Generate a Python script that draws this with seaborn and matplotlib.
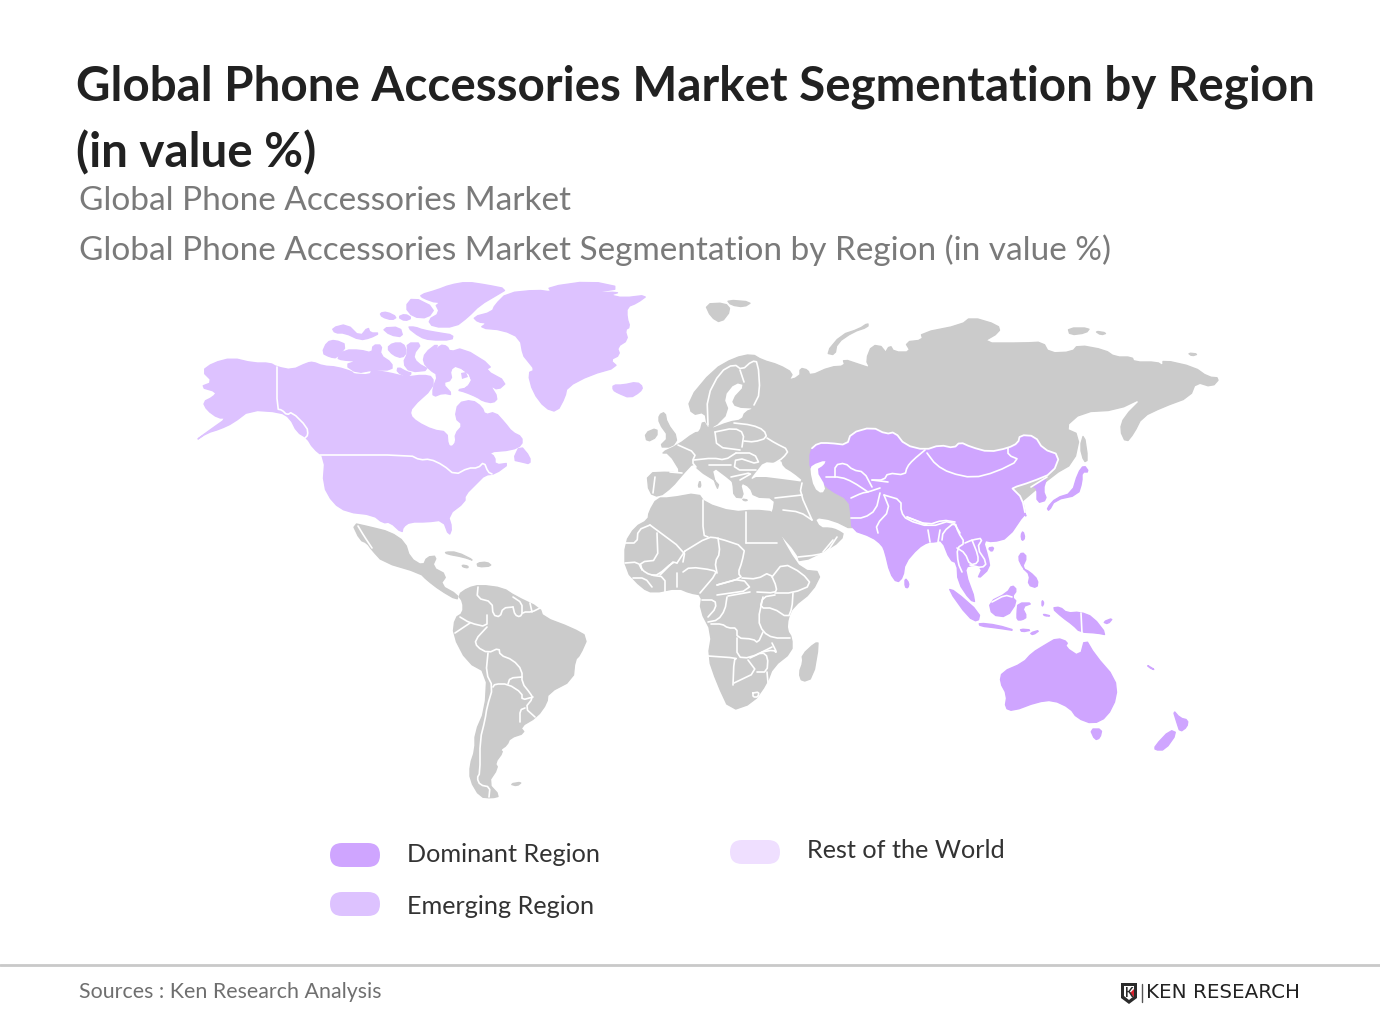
import matplotlib
matplotlib.use("Agg")
import matplotlib.pyplot as plt
from matplotlib.patches import FancyBboxPatch
import pandas as pd
import seaborn as sns

# colours
dominant_color = "#CFA5FF"
emerging_color = "#DDC2FF"
rest_color = "#EFDFFF"
land_color = "#CBCBCB"

# texts
title_lines = ["Global Phone Accessories Market Segmentation by Region", "(in value %)"]
subtitle_lines = ["Global Phone Accessories Market",
                  "Global Phone Accessories Market Segmentation by Region (in value %)"]
legend_labels = ["Dominant Region", "Emerging Region", "Rest of the World"]
source_text = "Sources : Ken Research Analysis"
logo_text = "KEN RESEARCH"

# map outlines
north_america = [(202,371),(213,363),(232,358),(253,363),(270,363),(277,367),(292,370),(307,363),(313,362),(323,366),(337,367),(353,372),(352,374),(370,375),(372,370),(390,373),(398,375),(407,377),(423,375),(433,377),(433,388),(412,407),(410,415),(417,422),(433,430),(447,432),(448,445),(452,447),(456,442),(455,434),(463,425),(455,418),(458,403),(472,400),(482,407),(485,415),(495,412),(505,423),(512,432),(522,437),(522,445),(512,450),(488,452),(495,457),(495,465),(510,463),(495,474),(485,475),(477,483),(465,495),(465,502),(448,515),(452,528),(449,536),(443,520),(427,522),(410,522),(403,527),(402,533),(390,522),(383,523),(373,515),(347,512),(333,503),(323,485),(325,458),(313,448),(307,438),(297,432),(290,418),(280,412),(250,410),(233,423),(220,429),(207,433),(195,441),(210,430),(227,418),(218,418),(207,410),(203,402),(213,397),(217,392),(200,387),(213,382)]
baffin = [(425,353),(438,343),(435,353),(440,345),(447,346),(450,352),(463,348),(492,366),(485,370),(507,382),(498,390),(490,385),(498,398),(493,403),(483,401),(477,397),(465,392),(457,390),(467,388),(473,378),(457,365),(450,370),(452,380),(442,383),(453,395),(443,393),(433,397),(433,388),(438,375),(430,370),(423,362)]
banks = [(322,353),(327,342),(335,340),(347,345),(337,358),(330,357)]
victoria = [(337,358),(345,350),(360,350),(372,353),(373,345),(382,345),(380,355),(392,363),(392,370),(373,370),(357,373),(345,365),(357,361),(342,360)]
prince_wales = [(387,348),(393,343),(403,343),(407,352),(402,358),(393,355)]
somerset = [(407,343),(422,343),(413,355),(417,363),(430,370),(410,372),(403,363),(408,353)]
king_william = [(398,367),(407,372),(412,373),(407,377),(397,372)]
melville = [(332,328),(347,324),(360,337),(368,327),(370,333),(380,333),(370,338),(360,340),(345,333),(335,333)]
bathurst = [(382,328),(400,327),(403,337),(390,335)]
devon = [(407,327),(415,327),(423,330),(440,333),(453,335),(452,340),(430,340),(420,337)]
cornwallis = [(380,313),(387,312),(397,317),(392,320),(382,317)]
amund = [(398,317),(405,314),(412,318),(405,321)]
axel = [(405,307),(413,297),(435,308),(428,318),(413,317)]
ellesmere = [(420,295),(437,290),(450,285),(467,282),(487,285),(507,289),(497,295),(480,305),(468,317),(455,327),(433,327),(428,320),(440,313),(435,303),(455,301),(437,303),(423,298)]
greenland = [(473,317),(492,312),(495,305),(507,293),(537,290),(552,292),(548,287),(590,281),(623,288),(590,293),(620,292),(610,295),(623,298),(648,295),(637,303),(627,307),(627,318),(630,327),(625,330),(628,340),(617,347),(620,355),(610,360),(618,367),(590,375),(567,387),(565,397),(557,412),(545,408),(533,392),(528,373),(535,370),(527,360),(523,355),(520,338),(503,330),(480,328),(487,323),(478,322)]
iceland = [(613,385),(623,385),(637,382),(643,387),(640,392),(630,398),(618,393),(613,390)]
newfoundland = [(520,445),(530,457),(530,464),(522,462),(513,460)]
foxe_island = [(461,373),(466,372),(468,377),(462,379)]

eurasia = [(688,400),(713,370),(734,358),(752,354),(762,360),(779,365),(793,373),(789,380),(781,390),(773,380),(777,388),(781,382),(800,377),(800,368),(808,370),(810,376),(830,367),(845,366),(843,359),(861,365),(870,368),(866,360),(872,345),(884,347),(886,362),(890,367),(882,378),(890,368),(884,355),(890,345),(894,352),(911,352),(905,342),(923,340),(921,333),(961,325),(971,317),(998,325),(1000,332),(981,343),(1024,343),(1043,342),(1049,353),(1072,352),(1078,345),(1105,350),(1115,357),(1132,357),(1134,362),(1157,362),(1163,366),(1163,360),(1194,367),(1208,377),(1220,378),(1212,387),(1196,382),(1190,397),(1163,407),(1142,417),(1134,433),(1126,443),(1120,430),(1124,417),(1144,397),(1117,410),(1082,412),(1064,428),(1080,435),(1074,463),(1053,475),(1000,520),(900,520),(853,530),(833,520),(814,517),(820,528),(830,528),(837,530),(845,535),(833,547),(800,563),(797,553),(777,530),(768,520),(773,512),(775,498),(754,497),(750,487),(740,482),(744,498),(734,497),(733,483),(731,480),(711,465),(717,490),(719,483),(698,470),(694,462),(682,475),(672,487),(659,497),(649,493),(647,473),(670,472),(682,474),(669,453),(661,453),(678,445),(694,433),(700,432),(703,420),(709,430),(729,422),(742,420),(745,412),(756,408),(736,407),(732,400),(746,385),(735,382),(723,397),(729,412),(713,428),(707,425),(705,412),(692,415)]
britain = [(659,415),(665,412),(667,423),(678,438),(672,447),(659,447),(669,437),(659,423)]
ireland = [(645,433),(657,428),(657,437),(647,442)]
svalbard = [(705,304),(725,303),(731,310),(721,323),(711,317)]
svalbard_east = [(727,300),(752,302),(744,307),(731,305)]
novaya_zemlya = [(868,323),(859,329),(841,335),(826,353),(835,355),(837,343),(853,332),(868,327)]
new_siberia = [(1068,328),(1090,328),(1086,333),(1070,335)]
new_siberia_east = [(1095,331),(1107,333),(1101,335)]
wrangel = [(1188,353),(1198,354),(1192,356)]
sakhalin = [(1084,433),(1088,460),(1084,462),(1080,447)]
corsica = [(700,480),(701,487),(698,487)]
crete = [(742,499),(748,500),(745,501)]

africa = [(649,512),(657,498),(670,498),(698,493),(705,503),(733,512),(754,510),(775,512),(773,520),(788,550),(802,570),(822,572),(812,592),(793,607),(788,618),(787,630),(792,638),(792,652),(773,667),(767,683),(753,703),(730,711),(717,683),(708,657),(712,633),(700,610),(702,595),(690,593),(678,588),(653,593),(642,588),(625,570),(625,543),(635,527),(648,520)]
madagascar = [(802,655),(815,643),(819,643),(813,678),(802,682),(799,673),(803,662)]
central_america = [(352,523),(370,527),(390,532),(405,542),(410,558),(423,566),(427,557),(437,556),(432,567),(447,575),(440,585),(458,595),(457,600),(440,590),(427,580),(420,573),(383,562),(372,550),(367,543),(360,540)]
cuba = [(445,552),(457,552),(475,561),(463,557),(447,554)]
hispaniola = [(477,563),(487,562),(492,566),(478,567)]
jamaica = [(462,565),(468,566),(468,568),(463,567)]
south_america = [(458,595),(468,588),(480,585),(503,588),(515,596),(540,608),(543,617),(572,628),(588,637),(580,655),(575,660),(573,680),(548,693),(547,703),(537,717),(520,727),(525,733),(510,738),(507,745),(500,750),(503,752),(495,763),(498,768),(488,783),(500,796),(492,798),(480,797),(470,780),(470,765),(475,750),(475,733),(485,710),(487,673),(467,662),(453,635),(455,618),(463,613),(463,602)]
falkland = [(510,784),(522,782),(517,786)]

asia_main = [(810,450),(818,443),(830,443),(847,445),(851,433),(872,427),(886,434),(895,432),(905,445),(925,450),(940,445),(954,448),(960,442),(971,447),(989,452),(1008,448),(1018,443),(1020,435),(1035,436),(1043,449),(1060,455),(1053,473),(1031,482),(1012,488),(1014,490),(1022,498),(1026,517),(1025,513),(1008,538),(993,542),(983,540),(988,557),(990,568),(977,580),(983,567),(968,565),(965,572),(976,602),(970,600),(958,582),(957,563),(950,560),(942,540),(935,542),(928,542),(918,548),(905,563),(903,577),(897,583),(890,573),(885,552),(882,545),(872,537),(852,530),(851,515),(849,500),(830,490),(822,482),(810,470)]
korea = [(1033,487),(1047,477),(1043,490),(1047,500),(1037,503),(1037,488)]
japan = [(1047,508),(1049,511),(1055,500),(1078,495),(1082,482),(1082,472),(1089,472),(1084,465),(1078,473),(1072,493),(1056,498)]
taiwan = [(1023,531),(1025,538),(1022,541),(1021,535)]
philippines = [(1022,552),(1027,557),(1022,568),(1030,572),(1038,580),(1037,588),(1028,585),(1030,575),(1023,568),(1018,558)]
sumatra = [(948,589),(955,591),(980,613),(978,622),(968,617)]
java = [(979,623),(997,625),(1017,631),(997,628),(980,626)]
sunda = [(1020,629),(1032,630),(1022,632)]
timor = [(1030,633),(1040,630),(1033,635)]
hainan = [(988,548),(994,547),(992,552)]
sri_lanka = [(905,578),(909,583),(908,588),(905,587)]
borneo = [(989,602),(1007,593),(1012,585),(1017,590),(1012,597),(1017,602),(1007,617),(992,615)]
sulawesi = [(1018,603),(1033,603),(1022,607),(1027,617),(1022,620),(1017,620),(1017,612)]
new_guinea = [(1052,608),(1060,607),(1067,613),(1080,612),(1093,617),(1107,635),(1097,633),(1080,632),(1073,625),(1062,617)]
halmahera = [(1042,600),(1044,603),(1042,607)]
seram = [(1043,614),(1051,616),(1045,616)]
new_britain = [(1103,622),(1113,618),(1108,624)]
australia = [(1002,672),(1023,663),(1032,653),(1045,645),(1057,638),(1068,642),(1065,647),(1080,657),(1085,638),(1095,655),(1115,678),(1117,697),(1107,717),(1093,724),(1077,718),(1070,708),(1053,700),(1037,702),(1013,711),(1005,708),(1007,695),(1000,682)]
tasmania = [(1090,729),(1102,729),(1100,738),(1095,740)]
new_caledonia = [(1147,665),(1155,670),(1150,668)]
nz_north = [(1173,710),(1180,718),(1188,720),(1187,727),(1180,732),(1177,723)]
nz_south = [(1170,730),(1177,733),(1165,750),(1155,750),(1155,746)]

black_sea = [(750,480),(758,476),(790,480),(804,482),(793,473),(783,467),(781,460),(775,463),(764,462),(756,472)]
caspian = [(812,465),(826,460),(824,465),(816,470),(826,487),(822,494),(814,488),(810,470)]
foxe_basin = [(458,367),(472,377),(466,388),(456,388),(452,378)]

land_shapes = [eurasia, britain, ireland, svalbard, svalbard_east, novaya_zemlya, new_siberia, new_siberia_east,
               wrangel, sakhalin, corsica, crete, africa, madagascar, central_america, cuba, hispaniola, jamaica,
               south_america, falkland]
emerging_shapes = [north_america, baffin, banks, victoria, prince_wales, somerset, king_william, melville, bathurst,
                   devon, cornwallis, amund, axel, ellesmere, greenland, iceland, newfoundland]
dominant_shapes = [asia_main, korea, japan, taiwan, philippines, sumatra, java, sunda, timor, hainan, sri_lanka,
                   borneo, sulawesi, new_guinea, halmahera, seram, new_britain, australia, tasmania, new_caledonia,
                   nz_north, nz_south]
sea_shapes = [black_sea, caspian, foxe_basin]

# country borders
borders = [
    [(277,367),(277,409),(282,410),(287,415),(292,412),(307,427),(308,435),(305,438)],
    [(320,455),(410,455),(420,460),(430,459),(443,465),(455,475),(468,468),(478,468),(484,462),(488,472),(492,474)],
    [(358,526),(364,536),(372,548)],
    [(478,587),(477,598),(492,602),(493,615),(500,617),(503,608),(513,607)],
    [(487,615),(487,627),(470,623),(460,617)],
    [(513,607),(515,615),(520,617),(523,612),(532,612),(540,608)],
    [(513,597),(522,603),(522,613)],
    [(530,603),(532,612)],
    [(487,627),(475,640),(477,647),(488,653),(499,648),(500,655),(513,660),(522,670),(522,683),(530,693),(533,698),(525,708),(535,717)],
    [(470,623),(455,633)],
    [(488,653),(486,673),(493,687),(487,707),(485,720),(480,740),(480,773),(477,778),(480,785),(490,787),(489,797)],
    [(493,687),(495,684),(508,684),(522,693),(522,700),(533,697)],
    [(508,684),(510,678),(522,677)],
    [(520,722),(520,710),(525,708)],
    [(650,525),(685,551),(683,562)],
    [(685,551),(708,537),(718,538),(745,547),(742,562),(738,573),(742,578),(717,585)],
    [(746,543),(777,543)],
    [(746,512),(746,543)],
    [(703,500),(703,535),(708,537)],
    [(657,533),(658,560),(640,562),(642,570)],
    [(625,543),(637,543),(638,530),(650,525)],
    [(677,563),(685,551)],
    [(677,563),(673,562),(658,575),(652,575)],
    [(683,572),(690,567),(713,570),(717,573),(700,593)],
    [(717,573),(715,562),(720,553),(718,538)],
    [(717,585),(742,578),(752,590),(717,595)],
    [(742,578),(757,579),(770,572),(777,588),(775,593),(757,592)],
    [(772,577),(783,563),(802,573),(812,585),(793,593),(775,593)],
    [(793,593),(792,608),(788,618),(773,608),(760,608),(763,597),(775,595)],
    [(728,596),(750,592)],
    [(763,597),(758,620),(763,632),(773,638),(790,638)],
    [(727,597),(725,610),(718,620),(708,622)],
    [(711,624),(722,624),(728,628),(737,628),(737,638),(753,639),(758,643),(763,632)],
    [(737,638),(737,657),(750,658),(772,647)],
    [(708,656),(737,658),(734,660),(733,685)],
    [(734,683),(757,672),(748,660)],
    [(750,658),(762,652),(768,657),(767,672),(757,672)],
    [(767,672),(768,683)],
    [(762,652),(773,650),(777,653),(772,643)],
    [(753,693),(759,692),(758,697),(753,697),(753,693)],
    [(702,600),(715,600),(716,608),(708,617)],
    [(625,563),(638,562),(642,570),(650,575),(665,577),(665,592)],
    [(677,573),(677,587)],
    [(633,578),(645,578),(652,587)],
    [(660,575),(673,562)],
    [(708,425),(707,397),(720,372),(734,364),(742,370),(752,361),(758,362),(760,393),(754,405)],
    [(740,370),(744,382)],
    [(655,477),(653,493)],
    [(670,472),(682,473)],
    [(678,445),(696,453),(692,462),(696,467)],
    [(694,460),(713,458),(725,460),(736,453)],
    [(715,432),(717,447),(740,450)],
    [(715,432),(734,428),(744,433),(742,447)],
    [(734,423),(752,425),(764,430),(767,438),(754,442),(744,441)],
    [(767,438),(775,443),(789,450),(783,458),(775,463)],
    [(736,453),(754,453),(760,465),(736,457),(734,470),(756,470)],
    [(709,465),(731,465)],
    [(731,477),(754,472),(740,480)],
    [(802,483),(800,493),(812,520)],
    [(775,498),(802,495)],
    [(783,510),(800,512),(812,520)],
    [(798,557),(817,555),(827,552),(837,537)],
    [(833,540),(823,552)],
    [(925,450),(913,460),(907,467),(905,475),(888,473),(884,480),(872,480)],
    [(835,477),(835,465),(845,463),(853,470),(864,472),(872,487)],
    [(826,477),(841,477),(853,482),(868,492)],
    [(851,498),(862,493),(868,492),(880,488)],
    [(880,493),(876,510),(864,518),(851,518)],
    [(884,495),(890,510),(876,525),(878,533)],
    [(872,480),(888,482)],
    [(884,495),(901,500),(901,512),(907,520),(930,527),(952,520),(960,533)],
    [(907,517),(927,525)],
    [(927,453),(936,465),(950,473),(973,478),(996,472),(1020,460),(1008,455),(1008,448)],
    [(1031,487),(1047,477)],
    [(942,540),(943,532),(955,522),(958,532),(965,543),(957,548),(958,563),(962,572)],
    [(965,543),(972,540),(983,538),(977,548),(987,563),(982,568),(970,565)],
    [(972,540),(978,555),(978,563),(970,565),(965,553),(957,548)],
    [(928,530),(930,542)],
    [(938,542),(940,530)],
    [(907,517),(928,525),(943,520),(955,522)],
    [(992,602),(1005,595),(1012,597)],
    [(1081,613),(1082,633)],
]


def round_off(points, closed=True):
    # one pass of corner cutting, the traced outlines are too angular otherwise
    out = [] if closed else [points[0]]
    n = len(points)
    for i in range(n if closed else n - 1):
        x0, y0 = points[i]
        x1, y1 = points[(i + 1) % n]
        out.append((0.75 * x0 + 0.25 * x1, 0.75 * y0 + 0.25 * y1))
        out.append((0.25 * x0 + 0.75 * x1, 0.25 * y0 + 0.75 * y1))
    if not closed:
        out.append(points[-1])
    return out


sns.set_theme(style="white")
plt.rcParams["font.family"] = ["Lato", "DejaVu Sans"]

fig = plt.figure(figsize=(13.8, 10.35), dpi=100, facecolor="white")
ax = fig.add_axes([0, 0, 1, 1])

for shape in land_shapes:
    ax.fill(*zip(*round_off(shape)), fc=land_color, ec=land_color, lw=1.0, joinstyle="round")
for shape in emerging_shapes:
    ax.fill(*zip(*round_off(shape)), fc=emerging_color, ec=emerging_color, lw=1.0, joinstyle="round")
for shape in dominant_shapes:
    ax.fill(*zip(*round_off(shape)), fc=dominant_color, ec=dominant_color, lw=1.0, joinstyle="round")
for shape in sea_shapes:
    ax.fill(*zip(*round_off(shape)), color="white", lw=0)
ax.fill(*zip(*foxe_island), color=emerging_color, lw=0)

# outline round the dominant countries where they touch grey land
xs, ys = zip(*round_off(asia_main))
ax.plot(xs[:52] , ys[:52], color="white", lw=1.3)

rows = []
for i, seg in enumerate(borders):
    for x, y in round_off(seg, closed=False):
        rows.append((i, x, y))
border_df = pd.DataFrame(rows, columns=["seg", "x", "y"])
sns.lineplot(data=border_df, x="x", y="y", units="seg", estimator=None, sort=False,
             color="white", lw=1.2, ax=ax, legend=False)

ax.set_xlim(0, 1380)
ax.set_ylim(1035, 0)
ax.set_axis_off()

# header
ax.text(76, 87, title_lines[0], fontsize=34.2, fontweight="bold", color="#212121", va="center")
ax.text(76, 153, title_lines[1], fontsize=34.2, fontweight="bold", color="#212121", va="center")
ax.text(79, 201, subtitle_lines[0], fontsize=24, color="#7a7a7a", va="center")
ax.text(79, 250, subtitle_lines[1], fontsize=24, color="#7a7a7a", va="center")

# legend
legend_colors = [dominant_color, emerging_color, rest_color]
swatch_pos = [(330, 855), (330, 904), (730, 852)]
label_pos = [(407, 854), (407, 906), (807, 851)]
for lab, col, sp, lp in zip(legend_labels, legend_colors, swatch_pos, label_pos):
    ax.add_patch(FancyBboxPatch((sp[0], sp[1] - 12), 50, 24,
                                boxstyle="round,pad=0,rounding_size=12",
                                fc=col, ec="none"))
    ax.text(lp[0], lp[1], lab, fontsize=18.2, color="#333333", va="center")

# footer
ax.plot([0, 1380], [965, 965], color="#c9c9c9", lw=2)
ax.text(79, 992, source_text, fontsize=15.4, color="#6f6f6f", va="center")

# logo
ax.fill([1121, 1137, 1137, 1129, 1121], [983, 983, 998, 1004, 998], color="#2b2b2b", lw=0)
ax.fill([1124, 1134, 1134, 1129, 1124], [986, 986, 996, 1000, 996], color="white", lw=0)
ax.text(1129, 993, "K", fontsize=9, fontweight="bold", color="#2b2b2b", ha="center", va="center")
ax.fill([1134, 1130, 1134], [989, 993, 997], color="#d9232e", lw=0)
ax.plot([1142, 1142], [984, 1002], color="#555555", lw=1)
ax.text(1146, 993, logo_text, fontsize=14.3, color="#222222", va="center", family="DejaVu Sans")

fig.savefig("out.png", dpi=100, facecolor="white")
